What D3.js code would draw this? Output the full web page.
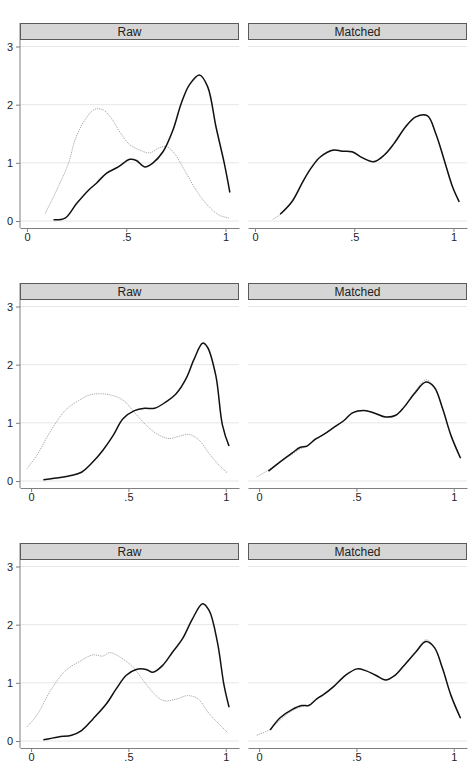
<!DOCTYPE html>
<html><head><meta charset="utf-8">
<script src="https://cdn.jsdelivr.net/npm/d3@7"></script>
<style>
body{margin:0;background:#fff;}
svg{display:block;font-family:"Liberation Sans",Arial,Helvetica,sans-serif;}
</style>
</head><body>
<svg id="chart" width="474" height="768"></svg>
<script>
// ---------- data ----------
const panelTitles = ["Raw", "Matched"];
const yTicks = [0, 1, 2, 3];
const xTicks = [0, 0.5, 1];
const xTickLabels = ["0", ".5", "1"];

// Row 1 — Raw
const r1RawTreated = [[0.134,0.02],[0.192,0.05],[0.25,0.30],[0.31,0.53],[0.35,0.65],[0.40,0.82],[0.46,0.93],[0.518,1.06],[0.551,1.04],[0.593,0.93],[0.635,1.00],[0.685,1.19],[0.735,1.56],[0.777,2.02],[0.818,2.34],[0.869,2.51],[0.91,2.31],[0.952,1.62],[0.994,0.99],[1.022,0.49]];
const r1RawControl = [[0.092,0.13],[0.158,0.59],[0.209,0.99],[0.242,1.39],[0.292,1.74],[0.342,1.92],[0.384,1.91],[0.426,1.76],[0.468,1.53],[0.518,1.31],[0.568,1.22],[0.618,1.17],[0.66,1.25],[0.702,1.28],[0.743,1.16],[0.793,0.88],[0.852,0.53],[0.91,0.27],[0.969,0.10],[1.019,0.05]];
// Row 1 — Matched
const r1MatTreated = [[0.127,0.115],[0.186,0.33],[0.245,0.70],[0.287,0.93],[0.329,1.10],[0.396,1.22],[0.439,1.20],[0.489,1.19],[0.54,1.09],[0.599,1.02],[0.65,1.13],[0.70,1.33],[0.759,1.62],[0.81,1.79],[0.868,1.81],[0.91,1.51],[0.953,1.05],[0.995,0.59],[1.029,0.33]];
const r1MatControl = [[0.09,0.03],[0.13,0.12],[0.186,0.34],[0.245,0.71],[0.287,0.94],[0.329,1.11],[0.396,1.21],[0.439,1.20],[0.489,1.18],[0.54,1.09],[0.599,1.03],[0.65,1.13],[0.70,1.33],[0.759,1.62],[0.81,1.79],[0.868,1.80],[0.91,1.51],[0.953,1.05],[0.995,0.59],[1.029,0.33]];

// Row 2 — Raw
const r2RawTreated = [[0.063,0.02],[0.131,0.05],[0.199,0.09],[0.259,0.15],[0.318,0.33],[0.369,0.53],[0.421,0.78],[0.472,1.07],[0.531,1.21],[0.583,1.25],[0.634,1.25],[0.693,1.36],[0.745,1.50],[0.796,1.76],[0.838,2.10],[0.881,2.37],[0.906,2.30],[0.949,1.81],[0.983,0.96],[1.017,0.60]];
const r2RawControl = [[-0.022,0.21],[0.029,0.44],[0.097,0.84],[0.174,1.21],[0.234,1.36],[0.301,1.48],[0.361,1.50],[0.429,1.46],[0.48,1.37],[0.531,1.18],[0.591,0.96],[0.651,0.80],[0.71,0.73],[0.761,0.77],[0.812,0.80],[0.864,0.70],[0.915,0.47],[0.966,0.27],[1.008,0.14]];
// Row 2 — Matched
const r2MatTreated = [[0.048,0.17],[0.108,0.33],[0.169,0.48],[0.212,0.58],[0.246,0.60],[0.289,0.72],[0.332,0.80],[0.384,0.92],[0.436,1.04],[0.479,1.17],[0.539,1.21],[0.591,1.17],[0.65,1.10],[0.702,1.13],[0.745,1.27],[0.797,1.50],[0.857,1.70],[0.90,1.61],[0.943,1.24],[0.986,0.78],[1.035,0.39]];
const r2MatControl = [[-0.012,0.07],[0.048,0.19],[0.108,0.33],[0.169,0.46],[0.212,0.55],[0.246,0.60],[0.289,0.71],[0.332,0.80],[0.384,0.92],[0.436,1.04],[0.479,1.16],[0.539,1.21],[0.591,1.17],[0.65,1.10],[0.702,1.13],[0.745,1.28],[0.797,1.52],[0.857,1.74],[0.90,1.62],[0.943,1.24],[0.986,0.78],[1.035,0.39]];

// Row 3 — Raw
const r3RawTreated = [[0.063,0.02],[0.14,0.07],[0.208,0.10],[0.259,0.18],[0.318,0.38],[0.387,0.64],[0.438,0.90],[0.489,1.13],[0.54,1.23],[0.591,1.23],[0.625,1.18],[0.676,1.30],[0.727,1.53],[0.778,1.76],[0.829,2.10],[0.881,2.36],[0.915,2.24],[0.957,1.70],[0.991,0.96],[1.017,0.58]];
const r3RawControl = [[-0.022,0.24],[0.029,0.44],[0.097,0.85],[0.174,1.20],[0.25,1.37],[0.318,1.48],[0.369,1.46],[0.404,1.52],[0.472,1.41],[0.523,1.27],[0.583,1.01],[0.642,0.78],[0.685,0.69],[0.745,0.72],[0.804,0.78],[0.855,0.73],[0.915,0.47],[0.966,0.29],[1.008,0.15]];
// Row 3 — Matched
const r3MatTreated = [[0.057,0.19],[0.108,0.40],[0.169,0.54],[0.22,0.61],[0.255,0.61],[0.298,0.73],[0.332,0.80],[0.384,0.94],[0.444,1.13],[0.504,1.24],[0.547,1.21],[0.599,1.13],[0.65,1.05],[0.694,1.12],[0.745,1.30],[0.805,1.53],[0.857,1.71],[0.90,1.61],[0.943,1.24],[0.986,0.78],[1.035,0.39]];
const r3MatControl = [[-0.012,0.10],[0.057,0.20],[0.108,0.36],[0.169,0.52],[0.22,0.59],[0.255,0.62],[0.298,0.73],[0.332,0.80],[0.384,0.94],[0.444,1.13],[0.504,1.24],[0.547,1.21],[0.599,1.13],[0.65,1.05],[0.694,1.12],[0.745,1.31],[0.805,1.54],[0.857,1.74],[0.90,1.62],[0.943,1.24],[0.986,0.78],[1.035,0.39]];

const xDomains = [[-0.035, 1.068], [-0.057, 1.068], [-0.057, 1.068]];

const rows = [
  [{t: r1RawTreated, c: r1RawControl}, {t: r1MatTreated, c: r1MatControl}],
  [{t: r2RawTreated, c: r2RawControl}, {t: r2MatTreated, c: r2MatControl}],
  [{t: r3RawTreated, c: r3RawControl}, {t: r3MatTreated, c: r3MatControl}]
];

// ---------- layout ----------
const svg = d3.select("#chart");
const panelX = [[20, 239], [248, 467]];
const rowStep = 260, firstTop = 23, headerH = 16;
const labelFont = '"Liberation Sans",Arial,sans-serif';

rows.forEach((row, ri) => {
  const top = firstTop + ri * rowStep;
  const axisY = top + 205;
  const y = d3.scaleLinear().domain([0, 3]).range([top + 198, top + 23.5]);

  row.forEach((panel, pi) => {
    const [x0, x1] = panelX[pi];
    const x = d3.scaleLinear().domain(xDomains[ri]).range([x0, x1]);
    const g = svg.append("g");

    // gridlines
    g.selectAll("line.grid").data(yTicks).enter().append("line")
      .attr("x1", x0).attr("x2", x1)
      .attr("y1", d => y(d)).attr("y2", d => y(d))
      .attr("stroke", "#e6e6e6").attr("stroke-width", 1);

    // x axis
    const xa = g.append("g").attr("transform", `translate(0,${axisY})`)
      .call(d3.axisBottom(x).tickValues(xTicks)
        .tickFormat((d, i) => xTickLabels[i]).tickSize(4).tickSizeOuter(0).tickPadding(1.5));
    xa.select(".domain").attr("stroke", "#808080");
    xa.selectAll(".tick line").attr("stroke", "#808080");
    xa.selectAll("text").attr("fill", "#222").style("font-size", "11px")
      .style("font-family", labelFont);

    // y axis (left panel only)
    if (pi === 0) {
      g.append("line").attr("x1", x0).attr("x2", x0)
        .attr("y1", top).attr("y2", axisY)
        .attr("stroke", "#808080").attr("stroke-width", 1);
      const ya = g.append("g").attr("transform", `translate(${x0},0)`)
        .call(d3.axisLeft(y).tickValues(yTicks).tickFormat(d3.format("d"))
          .tickSize(4).tickSizeOuter(0).tickPadding(3));
      ya.select(".domain").remove();
      ya.selectAll(".tick line").attr("stroke", "#808080");
      ya.selectAll("text").attr("fill", "#222").style("font-size", "11px")
        .style("font-family", labelFont);
    }

    const line = d3.line().x(d => x(d[0])).y(d => y(d[1])).curve(d3.curveCatmullRom.alpha(0.5));

    // control (dotted gray)
    g.append("path").datum(panel.c).attr("d", line)
      .attr("fill", "none").attr("stroke", "#a8a8a8").attr("stroke-width", 1)
      .attr("stroke-dasharray", "1.2,1");
    // treated (solid black)
    g.append("path").datum(panel.t).attr("d", line)
      .attr("fill", "none").attr("stroke", "#111").attr("stroke-width", 1.5)
      .attr("stroke-linejoin", "round");

    // strip header
    g.append("rect").attr("x", x0 + 0.5).attr("y", top + 0.5)
      .attr("width", x1 - x0 - 1).attr("height", headerH)
      .attr("fill", "#d6d6d6").attr("stroke", "#5a5a5a").attr("stroke-width", 1);
    g.append("text").attr("x", (x0 + x1) / 2).attr("y", top + headerH / 2 + 1)
      .attr("text-anchor", "middle").attr("dominant-baseline", "central")
      .attr("fill", "#222").style("font-size", "12px")
      .text(panelTitles[pi]);
  });
});
</script>
</body></html>
